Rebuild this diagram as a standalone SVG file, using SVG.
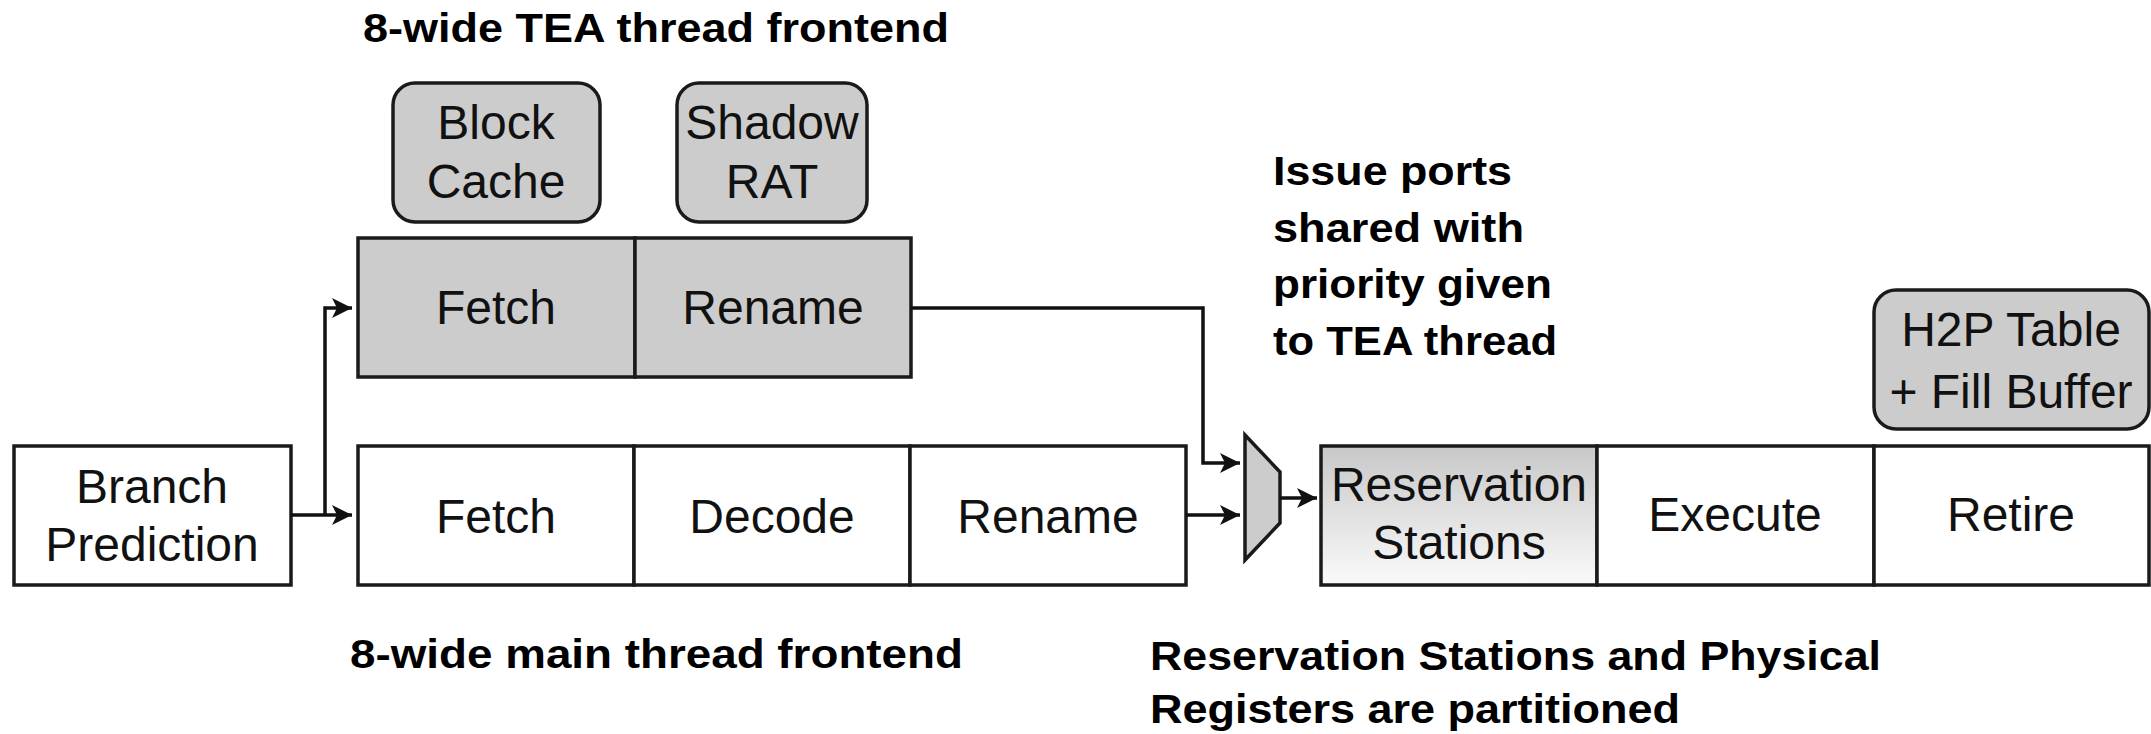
<svg xmlns="http://www.w3.org/2000/svg" width="2151" height="734" viewBox="0 0 2151 734">
<defs>
<linearGradient id="rsg" x1="0" y1="0" x2="0" y2="1">
<stop offset="0" stop-color="#c8c8c8"/>
<stop offset="1" stop-color="#fafafa"/>
</linearGradient>
<marker id="ah" viewBox="0 0 20 20" refX="20" refY="10" markerWidth="20" markerHeight="20" markerUnits="userSpaceOnUse" orient="auto">
<path d="M0,0 L20,10 L0,20 L5,10 Z" fill="#111"/>
</marker>
<style>
.box{stroke:#1a1a1a;stroke-width:3.5;}
.w{fill:#ffffff;}
.g{fill:#cccccc;}
.t{font-family:"Liberation Sans",Arial,sans-serif;font-size:48px;fill:#111;text-anchor:middle;}
.b{font-family:"Liberation Sans",Arial,sans-serif;font-size:41px;font-weight:bold;fill:#000;}
.c{fill:none;stroke:#111;stroke-width:3.5;}
</style>
</defs>
<rect width="2151" height="734" fill="#ffffff"/>

<g id="labels">
<text class="b" x="363" y="42" textLength="586" lengthAdjust="spacingAndGlyphs">8-wide TEA thread frontend</text>
<text class="b" x="350" y="668" textLength="613" lengthAdjust="spacingAndGlyphs">8-wide main thread frontend</text>
<text class="b" x="1273" y="185" textLength="239" lengthAdjust="spacingAndGlyphs">Issue ports</text>
<text class="b" x="1273" y="242" textLength="251" lengthAdjust="spacingAndGlyphs">shared with</text>
<text class="b" x="1273" y="298" textLength="279" lengthAdjust="spacingAndGlyphs">priority given</text>
<text class="b" x="1273" y="355" textLength="284" lengthAdjust="spacingAndGlyphs">to TEA thread</text>
<text class="b" x="1150" y="670" textLength="731" lengthAdjust="spacingAndGlyphs">Reservation Stations and Physical</text>
<text class="b" x="1150" y="723" textLength="530" lengthAdjust="spacingAndGlyphs">Registers are partitioned</text>
</g>

<g id="block-cache">
<rect class="box g" x="393" y="83" width="207" height="139" rx="22"/>
<text class="t" x="496" y="139">Block</text>
<text class="t" x="496" y="198">Cache</text>
</g>
<g id="shadow-rat">
<rect class="box g" x="677" y="83" width="190" height="139" rx="22"/>
<text class="t" x="772" y="139">Shadow</text>
<text class="t" x="772" y="198">RAT</text>
</g>

<g id="tea-fetch">
<rect class="box g" x="358" y="238" width="277" height="139"/>
<text class="t" x="496" y="324">Fetch</text>
</g>
<g id="tea-rename">
<rect class="box g" x="635" y="238" width="276" height="139"/>
<text class="t" x="773" y="324">Rename</text>
</g>

<g id="branch-prediction">
<rect class="box w" x="14" y="446" width="277" height="139"/>
<text class="t" x="152" y="503">Branch</text>
<text class="t" x="152" y="561">Prediction</text>
</g>

<g id="main-fetch">
<rect class="box w" x="358" y="446" width="276" height="139"/>
<text class="t" x="496" y="533">Fetch</text>
</g>
<g id="main-decode">
<rect class="box w" x="634" y="446" width="276" height="139"/>
<text class="t" x="772" y="533">Decode</text>
</g>
<g id="main-rename">
<rect class="box w" x="910" y="446" width="276" height="139"/>
<text class="t" x="1048" y="533">Rename</text>
</g>

<g id="mux">
<polygon class="box g" points="1245,435 1280,472 1280,523 1245,560"/>
</g>

<g id="reservation-stations">
<rect class="box" fill="url(#rsg)" x="1321" y="446" width="276" height="139"/>
<text class="t" x="1459" y="501">Reservation</text>
<text class="t" x="1459" y="559">Stations</text>
</g>
<g id="execute">
<rect class="box w" x="1597" y="446" width="277" height="139"/>
<text class="t" x="1735" y="531">Execute</text>
</g>
<g id="retire">
<rect class="box w" x="1874" y="446" width="275" height="139"/>
<text class="t" x="2011" y="531">Retire</text>
</g>

<g id="h2p-table">
<rect class="box g" x="1874" y="290" width="275" height="139" rx="22"/>
<text class="t" x="2011" y="346">H2P Table</text>
<text class="t" x="2011" y="408">+ Fill Buffer</text>
</g>

<g id="connectors">
<path class="c" d="M291,515 H352" marker-end="url(#ah)"/>
<path class="c" d="M325,515 V308 H352" marker-end="url(#ah)"/>
<path class="c" d="M911,308 H1203 V463 H1240" marker-end="url(#ah)"/>
<path class="c" d="M1186,515 H1240" marker-end="url(#ah)"/>
<path class="c" d="M1280,498 H1317" marker-end="url(#ah)"/>
</g>
</svg>
